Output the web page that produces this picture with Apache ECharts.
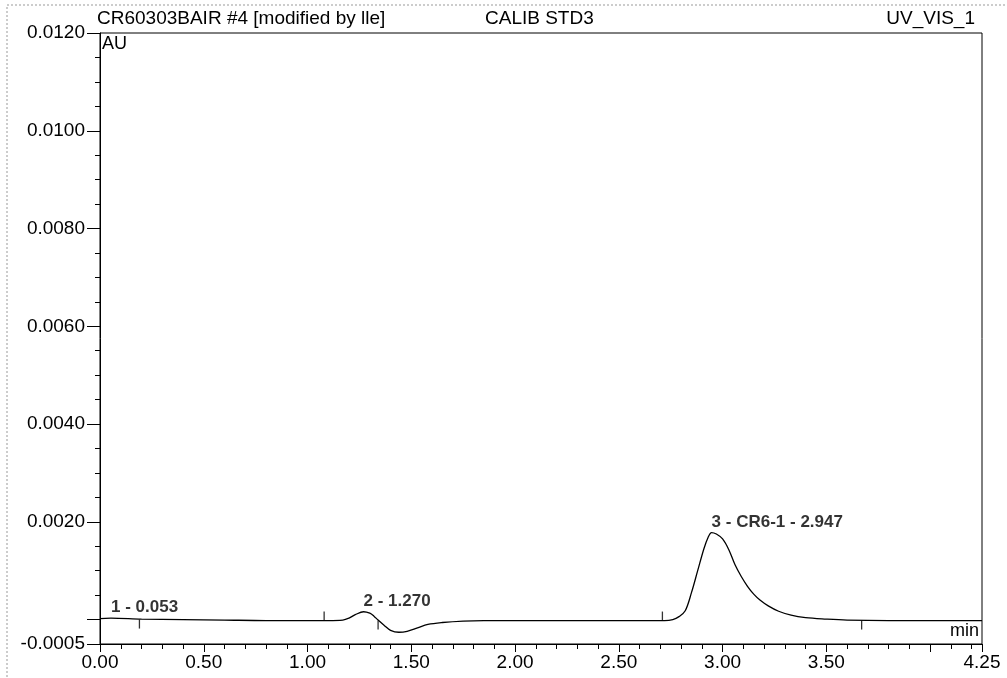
<!DOCTYPE html>
<html lang="en">
<head>
    <meta charset="UTF-8">
    <title>CR60303BAIR #4 - UV_VIS_1</title>
    <style>
        html, body { margin: 0; padding: 0; background: #fff; }
        #main { width: 1007px; height: 678px; }
    </style>
    <script src="https://cdn.jsdelivr.net/npm/echarts@6/dist/echarts.min.js"></script>
</head>
<body>
    <div id="main"></div>
    <script>
        // chromatogram trace, time in min, signal in AU
        let times = [0.00, 0.053, 0.20, 0.40, 0.60, 0.80, 1.00, 1.10, 1.17, 1.20, 1.23, 1.27, 1.30, 1.32,
            1.34, 1.37, 1.40, 1.44, 1.48, 1.53, 1.58, 1.65, 1.75, 1.85, 2.00, 2.30, 2.60, 2.72, 2.76,
            2.79, 2.82, 2.85, 2.88, 2.91, 2.93, 2.947, 2.97, 3.00, 3.03, 3.06, 3.09, 3.12, 3.15, 3.18,
            3.22, 3.27, 3.33, 3.40, 3.50, 3.60, 3.80, 4.00, 4.25];
        let signal = [0.00002, 0.00003, 0.00001, 0.0, -0.00001, -0.00002, -0.00002, -0.00002, -0.00001,
            0.00003, 0.00010, 0.00016, 0.00013, 0.00007, -0.00001, -0.00012, -0.00022, -0.00026,
            -0.00024, -0.00017, -0.00010, -0.00006, -0.00003, -0.00002, -0.00002, -0.00002, -0.00002,
            -0.00002, 0.0, 0.00006, 0.00018, 0.00055, 0.00100, 0.00145, 0.00168, 0.00178, 0.00175,
            0.00165, 0.00143, 0.00112, 0.00088, 0.00068, 0.00052, 0.00040, 0.00028, 0.00017, 0.00009,
            0.00004, 0.00001, -0.00001, -0.00002, -0.00002, -0.00002];

        // peak annotations
        let peakNames = ['1 - 0.053', '2 - 1.270', '3 - CR6-1 - 2.947'];
        let peakTimes = [0.053, 1.270, 2.947];
        let peakValues = [0.00003, 0.00016, 0.00178];

        // peak start / end delimiters (1 = up, -1 = down)
        let delimTimes = [0.19, 1.08, 1.34, 2.71, 3.67];
        let delimValues = [0.0, -0.00002, -0.00002, -0.00002, -0.00002];
        let delimDir = [-1, 1, -1, 1, -1];

        let xLabels = [0, 0.5, 1.0, 1.5, 2.0, 2.5, 3.0, 3.5, 4.25];
        let yLabels = [-0.0005, 0.002, 0.004, 0.006, 0.008, 0.010, 0.012];
        let yMajorTicks = [-0.0005, 0, 0.002, 0.004, 0.006, 0.008, 0.010, 0.012];

        const FONT = 'Liberation Sans, Arial, sans-serif';

        let chartDom = document.getElementById('main');
        let myChart = echarts.init(chartDom);

        let traceData = times.map((t, i) => [t, signal[i]]);
        let peakData = peakTimes.map((t, i) => ({ value: [t, peakValues[i]], name: peakNames[i] }));
        let delimData = delimTimes.map((t, i) => ({
            value: [t, delimValues[i]],
            symbolOffset: [0, delimDir[i] > 0 ? -4.5 : 4.5]
        }));

        let option = {
            animation: false,
            backgroundColor: '#fff',
            grid: {
                left: 100, right: 25, top: 33, bottom: 34,
                show: true, borderColor: '#000', borderWidth: 1
            },
            xAxis: {
                type: 'value',
                position: 'bottom',
                min: 0, max: 4.25, interval: 0.5,
                axisLine: { show: true, onZero: false, lineStyle: { color: '#000', width: 1 } },
                axisTick: { show: true, inside: false, length: 8, lineStyle: { color: '#000', width: 1 } },
                minorTick: { show: true, splitNumber: 5, length: 5, lineStyle: { color: '#000', width: 1 } },
                splitLine: { show: false },
                axisLabel: {
                    customValues: xLabels,
                    formatter: v => v.toFixed(2),
                    color: '#000', fontSize: 19, fontFamily: FONT, margin: 9
                }
            },
            yAxis: [{
                type: 'value',
                position: 'left',
                min: -0.0005, max: 0.012, interval: 0.0005,
                axisLine: { show: true, onZero: false, lineStyle: { color: '#000', width: 1 } },
                axisTick: { show: true, inside: false, length: 5, lineStyle: { color: '#000' } },
                splitLine: { show: false },
                axisLabel: {
                    customValues: yLabels,
                    formatter: v => v.toFixed(4),
                    color: '#000', fontSize: 19, fontFamily: FONT, margin: 15
                }
            }, {
                type: 'value',
                position: 'left',
                min: -0.0005, max: 0.012, interval: 0.0005,
                axisLine: { show: false, onZero: false },
                axisTick: { show: true, inside: false, customValues: yMajorTicks, length: 13, lineStyle: { color: '#000' } },
                splitLine: { show: false },
                axisLabel: { show: false }
            }],
            graphic: [
                { type: 'rect', silent: true, shape: { x: 7, y: 5, width: 1010, height: 690 },
                  style: { fill: 'none', stroke: '#999', lineWidth: 1, lineDash: [2, 2] } },
                { type: 'text', left: 97, top: 9,
                  style: { text: 'CR60303BAIR #4 [modified by lle]', font: '19px ' + FONT, fill: '#000' } },
                { type: 'text', left: 485, top: 9,
                  style: { text: 'CALIB STD3', font: '19px ' + FONT, fill: '#000' } },
                { type: 'text', right: 32, top: 9,
                  style: { text: 'UV_VIS_1', font: '19px ' + FONT, fill: '#000' } },
                { type: 'text', left: 102, top: 35,
                  style: { text: 'AU', font: '18px ' + FONT, fill: '#000' } },
                { type: 'text', right: 28, top: 622,
                  style: { text: 'min', font: '18px ' + FONT, fill: '#000' } }
            ],
            series: [{
                name: 'UV_VIS_1',
                type: 'line',
                data: traceData,
                showSymbol: false,
                smooth: 0.35,
                lineStyle: { color: '#000', width: 1.3 },
                z: 3
            }, {
                name: 'delimiters',
                type: 'scatter',
                data: delimData,
                symbol: 'rect',
                symbolSize: [1.3, 9],
                itemStyle: { color: '#000' },
                z: 4
            }, {
                name: 'peaks',
                type: 'scatter',
                data: peakData,
                symbolSize: 0,
                label: {
                    show: true,
                    position: 'top',
                    align: 'left',
                    distance: 2,
                    formatter: p => p.name,
                    color: '#000', fontWeight: 'bold', fontSize: 17, fontFamily: FONT
                },
                z: 5
            }]
        };

        option && myChart.setOption(option);
    </script>
</body>
</html>
